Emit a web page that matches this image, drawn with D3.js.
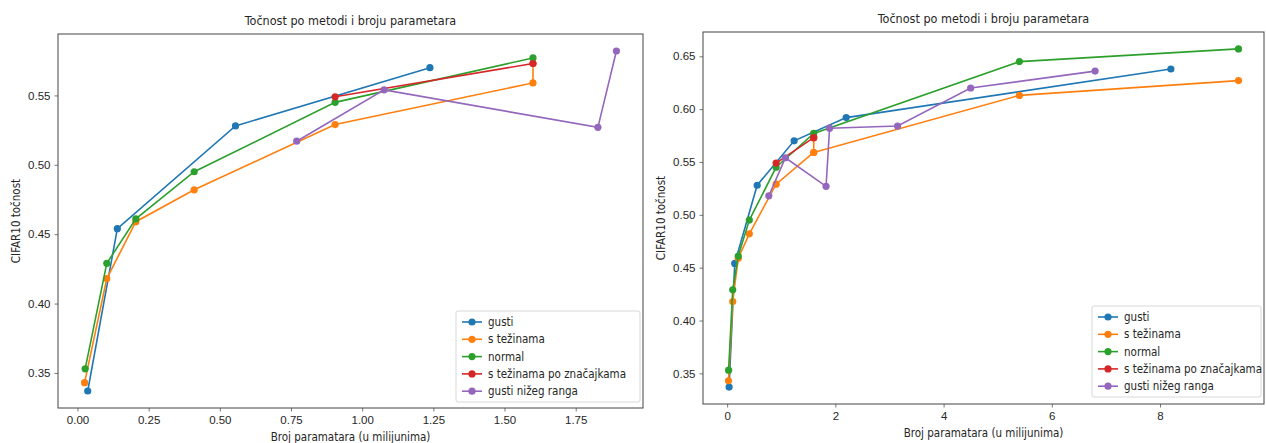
<!DOCTYPE html>
<html lang="hr">
<head>
  <meta charset="UTF-8">
  <title>Točnost po metodi i broju parametara</title>
  <script src="https://d3js.org/d3.v7.min.js"></script>
  <style>
    body {
      margin: 0;
      background: #fff;
      font-family: "DejaVu Sans", sans-serif;
    }
    svg text {
      fill: #262626;
      font-stretch: condensed;
    }
  </style>
</head>
<body>
  <svg id="chart" width="1266" height="443"></svg>

  <script>
    // serije (nazivi i boje kao u matplotlibu)
    const seriesNames = ["gusti", "s težinama", "normal", "s težinama po značajkama", "gusti nižeg ranga"];
    const seriesColors = ["#1f77b4", "#ff7f0e", "#2ca02c", "#d62728", "#9467bd"];

    // lijevi graf - broj parametara (u milijunima) i točnost
    const leftGustiX = [0.036, 0.14, 0.555, 1.238];
    const leftGustiY = [0.337, 0.454, 0.528, 0.570];
    const leftTezinamaX = [0.025, 0.103, 0.205, 0.41, 0.905, 1.60, 1.60];
    const leftTezinamaY = [0.343, 0.418, 0.459, 0.482, 0.529, 0.559, 0.573];
    const leftNormalX = [0.027, 0.103, 0.205, 0.41, 0.905, 1.60];
    const leftNormalY = [0.353, 0.429, 0.461, 0.495, 0.545, 0.577];
    const leftZnacajkeX = [0.905, 1.60];
    const leftZnacajkeY = [0.549, 0.573];
    const leftNizegX = [0.77, 1.077, 1.828, 1.893];
    const leftNizegY = [0.517, 0.554, 0.527, 0.582];

    // desni graf - svi modeli
    const rightGustiX = [0.036, 0.14, 0.555, 1.238, 2.2, 8.2];
    const rightGustiY = [0.337, 0.454, 0.528, 0.570, 0.592, 0.638];
    const rightTezinamaX = [0.025, 0.103, 0.205, 0.41, 0.905, 1.60, 1.60, 1.60, 5.4, 9.45];
    const rightTezinamaY = [0.343, 0.418, 0.459, 0.482, 0.529, 0.559, 0.573, 0.559, 0.613, 0.627];
    const rightNormalX = [0.027, 0.103, 0.205, 0.41, 0.905, 1.60, 5.4, 9.45];
    const rightNormalY = [0.353, 0.429, 0.461, 0.495, 0.545, 0.577, 0.645, 0.657];
    const rightZnacajkeX = [0.905, 1.60];
    const rightZnacajkeY = [0.549, 0.573];
    const rightNizegX = [0.77, 1.077, 1.828, 1.893, 3.15, 4.5, 6.8];
    const rightNizegY = [0.518, 0.554, 0.527, 0.582, 0.584, 0.620, 0.636];

    // oznake na osima
    const leftXTicks = [0.00, 0.25, 0.50, 0.75, 1.00, 1.25, 1.50, 1.75];
    const leftYTicks = [0.35, 0.40, 0.45, 0.50, 0.55];
    const rightXTicks = [0, 2, 4, 6, 8];
    const rightYTicks = [0.35, 0.40, 0.45, 0.50, 0.55, 0.60, 0.65];

    const title = "Točnost po metodi i broju parametara";
    const xLabel = "Broj paramatara (u milijunima)";
    const yLabel = "CIFAR10 točnost";

    const svg = d3.select("#chart");

    function zip(xs, ys) {
      return xs.map((x, i) => ({x: x, y: ys[i]}));
    }

    // domena kao u matplotlibu: 5% margine
    function padded(values) {
      const [lo, hi] = d3.extent(values);
      const pad = (hi - lo) * 0.05;
      return [lo - pad, hi + pad];
    }

    function drawPanel(box, series, xTicks, yTicks, xFmt, legendBox) {
      const allX = series.flatMap(s => s.map(d => d.x));
      const allY = series.flatMap(s => s.map(d => d.y));

      const x = d3.scaleLinear().domain(padded(allX)).range([box.left, box.right]);
      const y = d3.scaleLinear().domain(padded(allY)).range([box.bottom, box.top]);

      const g = svg.append("g");

      // osi
      const xAxis = g.append("g")
        .attr("transform", `translate(0,${box.bottom})`)
        .call(d3.axisBottom(x).tickValues(xTicks).tickFormat(d3.format(xFmt)).tickSize(3.5).tickPadding(4));
      const yAxis = g.append("g")
        .attr("transform", `translate(${box.left},0)`)
        .call(d3.axisLeft(y).tickValues(yTicks).tickFormat(d3.format(".2f")).tickSize(3.5).tickPadding(4));

      [xAxis, yAxis].forEach(a => {
        a.select(".domain").remove();
        a.selectAll("line").attr("stroke", "#555").attr("stroke-width", 0.8);
        a.selectAll("text").attr("font-size", 11.5).attr("fill", "#262626");
      });

      // okvir
      g.append("rect")
        .attr("x", box.left).attr("y", box.top)
        .attr("width", box.right - box.left).attr("height", box.bottom - box.top)
        .attr("fill", "none").attr("stroke", "#444").attr("stroke-width", 1);

      const clipId = "clip" + Math.round(box.left);
      g.append("clipPath").attr("id", clipId)
        .append("rect")
        .attr("x", box.left).attr("y", box.top)
        .attr("width", box.right - box.left).attr("height", box.bottom - box.top);

      const plot = g.append("g").attr("clip-path", `url(#${clipId})`);

      const line = d3.line().x(d => x(d.x)).y(d => y(d.y));

      series.forEach((s, i) => {
        plot.append("path")
          .datum(s)
          .attr("fill", "none")
          .attr("stroke", seriesColors[i])
          .attr("stroke-width", 1.6)
          .attr("d", line);
        plot.selectAll(null)
          .data(s)
          .join("circle")
          .attr("cx", d => x(d.x))
          .attr("cy", d => y(d.y))
          .attr("r", 3.6)
          .attr("fill", seriesColors[i]);
      });

      // naslov
      g.append("text")
        .attr("x", (box.left + box.right) / 2)
        .attr("y", box.top - 9)
        .attr("text-anchor", "middle")
        .attr("font-size", 12.5)
        .text(title);

      g.append("text")
        .attr("x", (box.left + box.right) / 2)
        .attr("y", box.bottom + 33)
        .attr("text-anchor", "middle")
        .attr("font-size", 11.5)
        .text(xLabel);

      g.append("text")
        .attr("transform", `translate(${box.left - 38},${(box.top + box.bottom) / 2}) rotate(-90)`)
        .attr("text-anchor", "middle")
        .attr("font-size", 11.5)
        .text(yLabel);

      // legenda
      const lg = g.append("g");
      lg.append("rect")
        .attr("x", legendBox.x).attr("y", legendBox.y)
        .attr("width", legendBox.w).attr("height", legendBox.h)
        .attr("rx", 2)
        .attr("fill", "#fff").attr("fill-opacity", 0.85)
        .attr("stroke", "#d8d8d8");
      seriesNames.forEach((name, i) => {
        const ly = legendBox.y + 11 + i * 17.3;
        lg.append("line")
          .attr("x1", legendBox.x + 6).attr("x2", legendBox.x + 26)
          .attr("y1", ly).attr("y2", ly)
          .attr("stroke", seriesColors[i]).attr("stroke-width", 1.6);
        lg.append("circle")
          .attr("cx", legendBox.x + 16).attr("cy", ly).attr("r", 3.6)
          .attr("fill", seriesColors[i]);
        lg.append("text")
          .attr("x", legendBox.x + 32).attr("y", ly + 4)
          .attr("font-size", 11.5)
          .text(name);
      });
    }

    drawPanel(
      {left: 58, right: 643, top: 34, bottom: 408},
      [zip(leftGustiX, leftGustiY), zip(leftTezinamaX, leftTezinamaY), zip(leftNormalX, leftNormalY),
       zip(leftZnacajkeX, leftZnacajkeY), zip(leftNizegX, leftNizegY)],
      leftXTicks, leftYTicks, ".2f",
      {x: 456, y: 311, w: 184, h: 91}
    );

    drawPanel(
      {left: 703, right: 1264, top: 32, bottom: 404},
      [zip(rightGustiX, rightGustiY), zip(rightTezinamaX, rightTezinamaY), zip(rightNormalX, rightNormalY),
       zip(rightZnacajkeX, rightZnacajkeY), zip(rightNizegX, rightNizegY)],
      rightXTicks, rightYTicks, "d",
      {x: 1092, y: 306, w: 169, h: 91}
    );
  </script>
</body>
</html>
